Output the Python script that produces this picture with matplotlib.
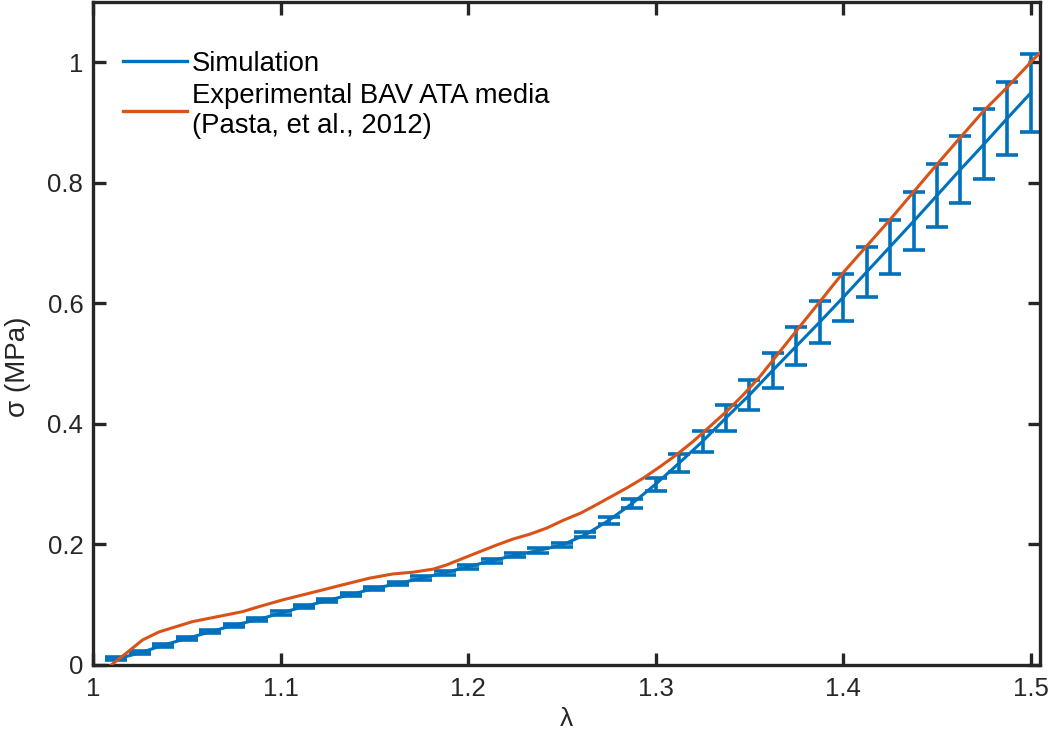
import numpy as np
import matplotlib
matplotlib.use("Agg")
import matplotlib.pyplot as plt
from matplotlib.lines import Line2D

plt.rcParams["font.family"] = ["Liberation Sans", "DejaVu Sans"]

# simulation: stretch, mean stress and spread (MPa)
sim_stretch = [1.0125, 1.025, 1.0375, 1.05, 1.0625, 1.075, 1.0875, 1.1, 1.1125, 1.125,
               1.1375, 1.15, 1.1625, 1.175, 1.1875, 1.2, 1.2125, 1.225, 1.2375, 1.25,
               1.2625, 1.275, 1.2875, 1.3, 1.3125, 1.325, 1.3375, 1.35, 1.3625, 1.375,
               1.3875, 1.4, 1.4125, 1.425, 1.4375, 1.45, 1.4625, 1.475, 1.4875, 1.5]
sim_stress = [0.010, 0.020, 0.033, 0.044, 0.055, 0.066, 0.075, 0.086, 0.097, 0.107,
              0.117, 0.127, 0.135, 0.144, 0.153, 0.163, 0.173, 0.182, 0.190, 0.199,
              0.216, 0.240, 0.268, 0.300, 0.335, 0.371, 0.410, 0.448, 0.489, 0.529,
              0.569, 0.610, 0.652, 0.694, 0.736, 0.779, 0.822, 0.864, 0.907, 0.949]
sim_err = [0.0025, 0.0025, 0.0025, 0.0025, 0.0025, 0.0025, 0.0025, 0.0028, 0.0028, 0.0028,
           0.003, 0.003, 0.003, 0.003, 0.0032, 0.0032, 0.0032, 0.0035, 0.0035, 0.0035,
           0.004, 0.006, 0.008, 0.011, 0.015, 0.018, 0.021, 0.025, 0.029, 0.032,
           0.035, 0.039, 0.042, 0.045, 0.048, 0.052, 0.055, 0.058, 0.061, 0.064]

# experimental curve (Pasta et al., 2012)
exp_stretch = [1.0097, 1.0175, 1.0264, 1.0353, 1.0531, 1.0709, 1.0798, 1.0887, 1.1011,
               1.1153, 1.1331, 1.1473, 1.1598, 1.1707, 1.1813, 1.1885, 1.1973, 1.2062,
               1.2152, 1.224, 1.2329, 1.2418, 1.2507, 1.26, 1.2667, 1.2845, 1.2934,
               1.3023, 1.3112, 1.32, 1.329, 1.3379, 1.3468, 1.3557, 1.3775, 1.4, 1.425,
               1.45, 1.4624, 1.4748, 1.4873, 1.5015, 1.505]
exp_stress = [0.0, 0.019, 0.0415, 0.055, 0.072, 0.083, 0.0886, 0.097, 0.108,
              0.119, 0.133, 0.144, 0.151, 0.154, 0.159, 0.166, 0.177, 0.188,
              0.199, 0.209, 0.217, 0.227, 0.240, 0.252, 0.263, 0.2935, 0.310,
              0.329, 0.349, 0.371, 0.396, 0.421, 0.4485, 0.479, 0.564, 0.651, 0.739,
              0.8306, 0.875, 0.919, 0.958, 1.005, 1.016]

blue = "#0072BD"
red = "#D95319"
ink = "#262626"

fig = plt.figure(figsize=(10.5, 7.31), dpi=100)
ax = fig.add_axes([0.0886, 0.0903, 0.902, 0.907])

ax.errorbar(sim_stretch, sim_stress, yerr=sim_err, color=blue, lw=2.2,
            elinewidth=2.6, capsize=7.9, capthick=2.6, zorder=2)
ax.plot(exp_stretch, exp_stress, color=red, lw=2.2, zorder=3)

ax.set_xlim(1.0, 1.505)
ax.set_ylim(0, 1.1)
ax.set_xticks([1, 1.1, 1.2, 1.3, 1.4, 1.5])
ax.set_xticklabels(["1", "1.1", "1.2", "1.3", "1.4", "1.5"])
ax.set_yticks([0, 0.2, 0.4, 0.6, 0.8, 1])
ax.set_yticklabels(["0", "0.2", "0.4", "0.6", "0.8", "1"])

ax.tick_params(direction="in", length=9, width=2.4, colors=ink, labelsize=18.5,
               top=True, right=True, pad=7)
ax.tick_params(axis="x", pad=9)
for s in ax.spines.values():
    s.set_linewidth(2.4)
    s.set_color(ink)

ax.set_xlabel("λ", fontsize=19, color=ink, labelpad=4)
ax.set_ylabel("σ (MPa)", fontsize=20, color=ink)
ax.yaxis.set_label_coords(-0.066, 0.45)

handles = [Line2D([], [], color=blue, lw=2.4), Line2D([], [], color=red, lw=2.4)]
labels = ["Simulation", "Experimental BAV ATA media\n(Pasta, et al., 2012)"]
leg = ax.legend(handles, labels, loc="upper left", frameon=False, fontsize=19.8,
                handlelength=2.3, handletextpad=0.2, borderpad=0, borderaxespad=0,
                bbox_to_anchor=(0.032, 0.926), labelspacing=0.2)
for t in leg.get_texts():
    t.set_linespacing(1.2)
    t.set_color("black")

fig.savefig("out.png", dpi=100)
